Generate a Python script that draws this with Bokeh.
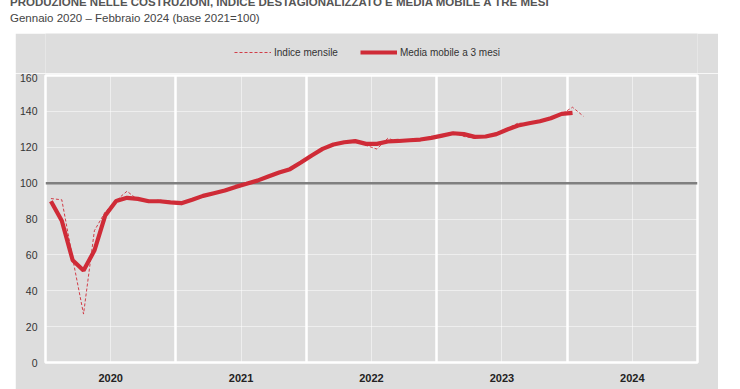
from bokeh.plotting import figure
from bokeh.models import Span, Legend, LegendItem, FixedTicker, Grid, Div
from bokeh.layouts import column
from bokeh.embed import file_html
from bokeh.resources import INLINE

title_text = "PRODUZIONE NELLE COSTRUZIONI, INDICE DESTAGIONALIZZATO E MEDIA MOBILE A TRE MESI"
subtitle_text = "Gennaio 2020 \u2013 Febbraio 2024 (base 2021=100)"
legend_labels = ["Indice mensile", "Media mobile a 3 mesi"]
year_labels = ["2020", "2021", "2022", "2023", "2024"]
y_ticks = [0, 20, 40, 60, 80, 100, 120, 140, 160]
start_year = 2020

# Monthly index, Jan 2020 - Feb 2024
indice_mensile = [
    91.4, 90.7, 58.0, 27.0, 73.5, 84.0, 90.3, 95.5, 90.7, 89.4, 90.7, 89.0,
    88.0, 90.5, 93.5, 94.0, 96.5, 98.0, 99.5, 101.5, 104.0, 106.0, 107.5, 112.0,
    116.0, 119.0, 121.5, 123.0, 124.0, 121.0, 119.0, 125.0, 123.0, 123.5, 124.5, 125.5,
    127.0, 128.5, 126.0, 125.0, 126.5, 128.0, 130.5, 133.5, 133.0, 134.5, 136.5, 138.5,
    142.3, 137.3,
]
# 3-month moving average, Jan 2020 - Jan 2024
media_mobile = [
    89.9, 79.0, 57.0, 51.3, 62.4, 82.0, 90.0, 91.8, 91.2, 89.9, 89.9, 89.3,
    88.8, 90.7, 92.9, 94.4, 95.9, 97.9, 99.6, 101.4, 103.7, 105.9, 107.8, 111.5,
    115.4, 119.1, 121.5, 122.8, 123.4, 121.9, 121.9, 123.2, 123.5, 123.9, 124.3, 125.2,
    126.5, 127.8, 127.3, 125.8, 126.0, 127.3, 129.9, 132.1, 133.4, 134.5, 136.2, 138.6,
    139.2,
]

x_ind = [start_year + (i + 0.5) / 12 for i in range(len(indice_mensile))]
x_mm = [start_year + (i + 0.5) / 12 for i in range(len(media_mobile))]

FONT = "Liberation Sans"
GRAY = "#dddddd"
RED = "#cf2b37"
IND_STYLE = dict(line_color=RED, line_width=1, line_dash="3 2", line_alpha=0.9)
MM_STYLE = dict(line_color=RED, line_width=4.2)

# ---- legend strip (top of the grey panel) ----
lf = figure(width=703, height=40, x_range=(0, 1), y_range=(0, 1),
            x_axis_type=None, y_axis_type=None,
            output_backend="svg", toolbar_location=None,
            min_border=0, min_border_left=0, min_border_right=0,
            min_border_top=0, min_border_bottom=0)
lf.margin = (0, 0, 0, 15)
lf.background_fill_color = GRAY
lf.border_fill_color = GRAY
lf.outline_line_color = None
lf.grid.visible = False
# legend samples (the series lie outside this strip's ranges, so only the swatches show)
lr_ind = lf.line(x_ind, indice_mensile, **IND_STYLE)
lr_mm = lf.line(x_mm, media_mobile, **MM_STYLE)
legend = Legend(items=[LegendItem(label=legend_labels[0], renderers=[lr_ind]),
                       LegendItem(label=legend_labels[1], renderers=[lr_mm])],
                location=(189, 11), orientation="horizontal",
                glyph_width=37, glyph_height=20, label_standoff=3, spacing=22,
                padding=0, margin=0, border_line_color=None, background_fill_alpha=0,
                label_text_font=FONT, label_text_font_size="10px", label_text_color="#333333")
lf.add_layout(legend)

# ---- main chart ----
p = figure(width=703, height=316, x_range=(2020, 2025), y_range=(0, 160),
           output_backend="svg", toolbar_location=None,
           min_border_left=30, min_border_right=21, min_border_top=2, min_border_bottom=27)
p.margin = (0, 0, 0, 15)
p.background_fill_color = GRAY
p.border_fill_color = GRAY
p.outline_line_color = "white"
p.outline_line_width = 2.5

label_pos = [int(y) + 0.5 for y in year_labels]
p.xaxis.ticker = FixedTicker(ticks=label_pos)
p.xaxis.major_label_overrides = {pos: lab for pos, lab in zip(label_pos, year_labels)}
p.xaxis.axis_line_color = None
p.xaxis.major_tick_line_color = None
p.xaxis.minor_tick_line_color = None
p.xaxis.major_tick_out = 0
p.xaxis.major_tick_in = 0
p.xaxis.minor_tick_out = 0
p.xaxis.minor_tick_in = 0
p.xaxis.axis_label_standoff = 0
p.xaxis.major_label_standoff = 11
p.xaxis.major_label_text_font = FONT
p.xaxis.major_label_text_font_style = "bold"
p.xaxis.major_label_text_font_size = "11px"
p.xaxis.major_label_text_color = "#222222"

p.yaxis.ticker = FixedTicker(ticks=y_ticks)
p.yaxis.axis_line_color = None
p.yaxis.major_tick_line_color = None
p.yaxis.minor_tick_line_color = None
p.yaxis.major_tick_out = 0
p.yaxis.major_tick_in = 0
p.yaxis.minor_tick_out = 0
p.yaxis.minor_tick_in = 0
p.yaxis.axis_label_standoff = 0
p.yaxis.major_label_standoff = 8
p.yaxis.major_label_text_font = FONT
p.yaxis.major_label_text_font_size = "10.5px"
p.yaxis.major_label_text_color = "#333333"

p.xgrid.grid_line_color = "white"
p.xgrid.grid_line_width = 1
p.xgrid.grid_line_dash = "1 1"
p.ygrid.grid_line_color = "white"
p.ygrid.grid_line_width = 1
p.ygrid.grid_line_dash = "1 1"

year_grid = Grid(dimension=0, ticker=FixedTicker(ticks=[int(y) for y in year_labels[1:]]),
                 grid_line_color="white", grid_line_width=2.5)
p.add_layout(year_grid)

base = Span(location=100, dimension="width", line_color="#7f7f7f", line_width=2.5, level="underlay")
p.add_layout(base)

p.line(x_ind, indice_mensile, **IND_STYLE)
p.line(x_mm, media_mobile, **MM_STYLE)

header_html = (
    '<div style="position:relative;width:740px;height:33px;background:white;overflow:hidden;">'
    '<div style="position:absolute;left:10px;top:-6px;font-family:\'Liberation Sans\';'
    'font-weight:bold;font-size:11.5px;color:#555555;white-space:nowrap;">' + title_text + '</div>'
    '<div style="position:absolute;left:10px;top:10px;font-family:\'Liberation Sans\';'
    'font-size:11.5px;color:#444444;white-space:nowrap;">' + subtitle_text + '</div>'
    '</div>'
)
header = Div(text=header_html, width=740, height=33, margin=(0, 0, 0, 0))

layout = column(header, lf, p, margin=(0, 0, 0, 0), spacing=0)

open("out.html", "w").write(file_html(layout, INLINE))
